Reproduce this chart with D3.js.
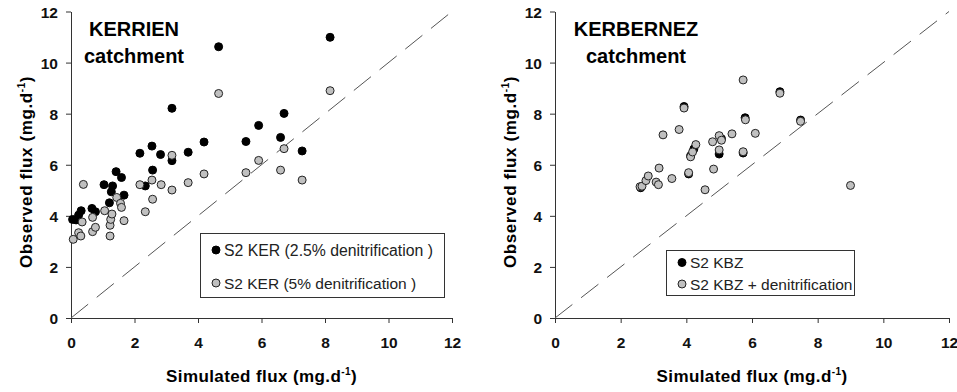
<!DOCTYPE html>
<html><head><meta charset="utf-8">
<script src="https://cdn.jsdelivr.net/npm/d3@7"></script>
<style>body{margin:0;background:#fff}svg{display:block}text{font-family:"Liberation Sans",Arial,sans-serif}</style>
</head><body>
<svg id="c" width="957" height="392"></svg>
<script>
// ---- data ----
const xTicks = [0, 2, 4, 6, 8, 10, 12];
const yTicks = [0, 2, 4, 6, 8, 10, 12];

// KERRIEN: S2 KER (2.5% denitrification) [simulated, observed]
const kerrien25 = [
  [0.05,3.86],[0.16,3.84],[0.24,4.03],[0.32,4.20],[0.66,4.29],[0.77,4.16],
  [1.04,5.22],[1.21,4.51],[1.27,4.94],[1.31,5.17],[1.42,5.73],[1.59,5.50],
  [1.67,4.81],[2.17,6.45],[2.34,5.17],[2.55,6.73],[2.57,5.79],[2.82,6.40],
  [3.18,8.21],[3.18,6.16],[3.69,6.49],[4.19,6.89],[4.65,10.62],[5.51,6.91],
  [5.91,7.54],[6.60,7.07],[6.71,8.01],[7.28,6.54],[8.16,10.99]
];
// KERRIEN: S2 KER (5% denitrification)
const kerrien5 = [
  [0.07,3.08],[0.24,3.34],[0.31,3.21],[0.35,3.76],[0.39,5.23],[0.68,3.94],
  [0.68,3.38],[0.77,3.55],[1.06,4.20],[1.23,3.63],[1.23,3.21],[1.25,3.86],
  [1.29,4.07],[1.44,4.72],[1.56,4.49],[1.59,4.33],[1.67,3.81],[2.17,5.22],
  [2.34,4.16],[2.55,5.40],[2.57,4.65],[2.84,5.22],[3.18,6.37],[3.18,5.01],
  [3.69,5.30],[4.19,5.64],[4.65,8.79],[5.51,5.69],[5.91,6.17],[6.60,5.79],
  [6.71,6.63],[7.28,5.40],[8.16,8.90]
];
// KERBERNEZ: S2 KBZ
const kerbernezS2 = [
  [2.61,5.10],[3.93,8.28],[4.07,5.64],[4.13,6.35],[4.23,6.62],[5.00,6.42],
  [5.07,7.02],[5.79,7.84],[5.73,6.46],[6.85,8.86],[7.48,7.75]
];
// KERBERNEZ: S2 KBZ + denitrification
const kerbernezDen = [
  [2.59,5.14],[2.65,5.16],[2.77,5.38],[2.84,5.56],[3.08,5.32],[3.15,5.22],
  [3.17,5.87],[3.29,7.17],[3.56,5.46],[3.78,7.38],[3.93,8.22],[4.07,5.69],
  [4.13,6.31],[4.19,6.50],[4.29,6.79],[4.57,5.02],[4.80,6.90],[4.83,5.83],
  [5.00,6.58],[5.00,7.14],[5.07,6.96],[5.39,7.21],[5.73,6.51],[5.73,9.32],
  [5.80,7.76],[6.10,7.23],[6.85,8.80],[7.48,7.70],[9.00,5.19]
];
const panelTitles = [["KERRIEN","catchment"],["KERBERNEZ","catchment"]];
const legendLeft = ["S2 KER (2.5% denitrification )","S2 KER (5% denitrification )"];
const legendRight = ["S2 KBZ","S2 KBZ + denitrification"];

// ---- drawing ----
const svg = d3.select("#c");
const panels = [
  {x0:71, x1:452, title:panelTitles[0], tx:134, black:kerrien25, gray:kerrien5,
   legend:legendLeft, lg:{x:200,y:233,w:244,h:64,rows:[250,283]}},
  {x0:555, x1:949, title:panelTitles[1], tx:636, black:kerbernezS2, gray:kerbernezDen,
   legend:legendRight, lg:{x:666,y:250,w:188,h:45,rows:[262.5,284]}}
];
const yTop = 11.5, yBot = 318;

panels.forEach(p => {
  const x = d3.scaleLinear().domain([0,12]).range([p.x0,p.x1]);
  const y = d3.scaleLinear().domain([0,12]).range([yBot,yTop]);
  const g = svg.append("g");

  // axes
  const xa = g.append("g").attr("transform",`translate(0,${yBot})`)
    .call(d3.axisBottom(x).tickValues(xTicks).tickSize(5).tickSizeOuter(0).tickFormat(d3.format("d")));
  const ya = g.append("g").attr("transform",`translate(${p.x0},0)`)
    .call(d3.axisLeft(y).tickValues(yTicks).tickSize(5).tickSizeOuter(0).tickFormat(d3.format("d")));
  [xa,ya].forEach(a=>{
    a.select(".domain").attr("stroke","#333");
    a.selectAll(".tick line").attr("stroke","#333");
    a.selectAll(".tick text").attr("fill","#111").style("font-size","15.5px").style("font-weight","bold")
      .style("font-family","Liberation Sans, Arial, sans-serif");
  });
  xa.selectAll(".tick text").attr("y",null).attr("dy",null).attr("transform","translate(0,30)");
  ya.selectAll(".tick text").attr("x",-13).attr("dy","0.36em");

  // 1:1 line
  g.append("line").attr("x1",x(0)).attr("y1",y(0)).attr("x2",x(12)).attr("y2",y(12))
    .attr("stroke","#555").attr("stroke-width",1).attr("stroke-dasharray","22,11");

  // points
  g.append("g").selectAll("circle").data(p.black).join("circle")
    .attr("cx",d=>x(d[0])).attr("cy",d=>y(d[1])).attr("r",4)
    .attr("fill","#000").attr("stroke","#000").attr("stroke-width",1);
  g.append("g").selectAll("circle").data(p.gray).join("circle")
    .attr("cx",d=>x(d[0])).attr("cy",d=>y(d[1])).attr("r",4)
    .attr("fill","#c0c0c0").attr("stroke","#222").attr("stroke-width",1);

  // titles
  g.append("text").attr("x",p.tx).attr("y",36).attr("text-anchor","middle")
    .style("font-size","20px").style("font-weight","bold").attr("fill","#000").text(p.title[0]);
  g.append("text").attr("x",p.tx).attr("y",63).attr("text-anchor","middle")
    .style("font-size","20px").style("font-weight","bold").attr("fill","#000").text(p.title[1]);

  // axis titles
  const cx = (p.x0+p.x1)/2;
  const xt = g.append("text").attr("x",cx).attr("y",382).attr("text-anchor","middle")
    .style("font-size","17px").style("font-weight","bold").style("letter-spacing","0.4px").attr("fill","#000");
  xt.append("tspan").text("Simulated flux (mg.d");
  xt.append("tspan").attr("dy",-7).style("font-size","10px").text("-1");
  xt.append("tspan").attr("dy",7).text(")");
  const ytx = p.x0 - 39, yc = 172;
  const yt = g.append("text").attr("transform",`translate(${ytx},${yc}) rotate(-90)`).attr("text-anchor","middle")
    .style("font-size","17px").style("font-weight","bold").style("letter-spacing","0.6px").attr("fill","#000");
  yt.append("tspan").text("Observed flux (mg.d");
  yt.append("tspan").attr("dy",-7).style("font-size","10px").text("-1");
  yt.append("tspan").attr("dy",7).text(")");

  // legend
  const L = p.lg;
  g.append("rect").attr("x",L.x+0.5).attr("y",L.y+0.5).attr("width",L.w).attr("height",L.h)
    .attr("fill","#fff").attr("stroke","#333").attr("stroke-width",1);
  const fills = ["#000","#c0c0c0"];
  p.legend.forEach((t,i)=>{
    g.append("circle").attr("cx",L.x+16).attr("cy",L.rows[i]).attr("r",4)
      .attr("fill",fills[i]).attr("stroke",i?"#222":"#000");
    g.append("text").attr("x",L.x+24).attr("y",L.rows[i]).attr("dy","0.36em")
      .style("font-size", i===0 && p.legend===legendLeft ? "15.8px" : "15.5px")
      .attr("fill","#222").text(t);
  });
});
</script>
</body></html>
